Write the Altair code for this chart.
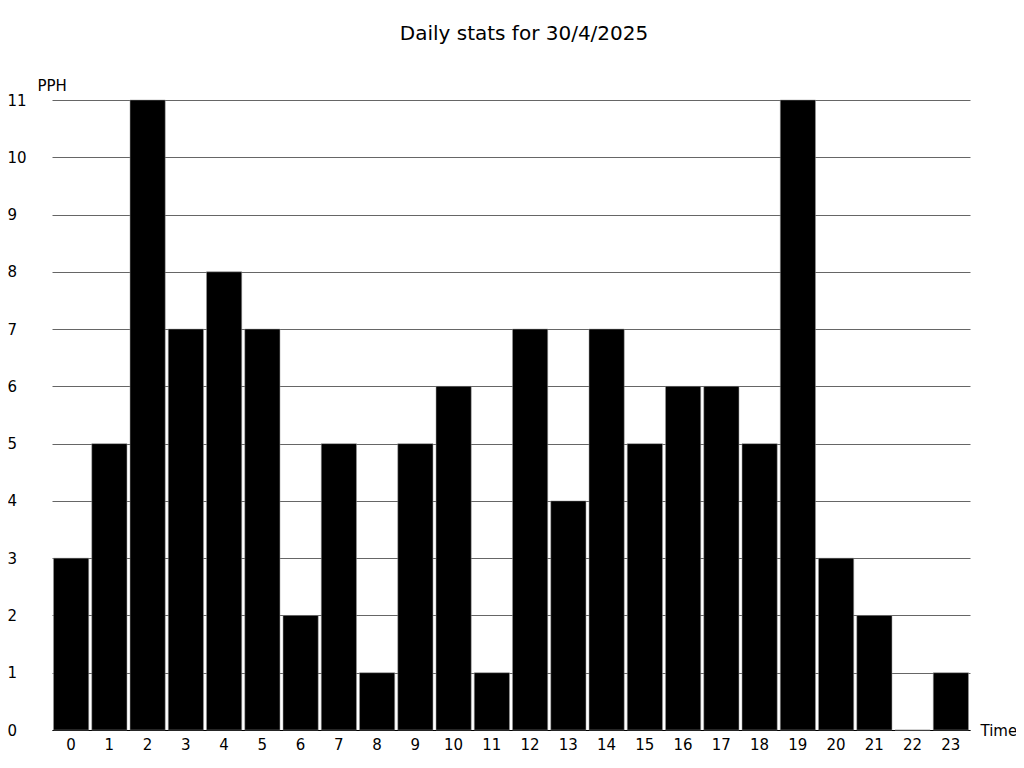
import altair as alt
import pandas as pd

hours = list(range(24))
pph = [3, 5, 11, 7, 8, 7, 2, 5, 1, 5, 6, 1, 7, 4, 7, 5, 6, 6, 5, 11, 3, 2, 0, 1]
y_ticks = list(range(12))

df = pd.DataFrame({"Time": hours, "PPH": pph})

chart = alt.Chart(df).mark_bar(color="black", stroke="#999999", strokeWidth=0.5).encode(
    x=alt.X("Time:O", scale=alt.Scale(paddingInner=0.08, paddingOuter=0.04),
            axis=alt.Axis(title="Time", labelAngle=0, ticks=False, domain=True,
                          domainColor="black", labelFontSize=15, labelColor="black",
                          labelFont="DejaVu Sans", labelPadding=7,
                          titleFont="DejaVu Sans", titleFontSize=15, titleFontWeight="normal",
                          titleColor="black", titleAlign="left", titleBaseline="middle",
                          titleX=928, titleY=0, titleAngle=0)),
    y=alt.Y("PPH:Q", scale=alt.Scale(domain=[0, 11], nice=False),
            axis=alt.Axis(title="PPH", values=y_ticks, ticks=False, domain=False,
                          grid=True, gridColor="#666666", gridWidth=1,
                          labelFontSize=15, labelColor="black", labelFont="DejaVu Sans",
                          labelAlign="left", labelPadding=45,
                          titleFont="DejaVu Sans", titleFontSize=15, titleFontWeight="normal",
                          titleColor="black", titleAngle=0, titleAlign="left",
                          titleBaseline="alphabetic", titleX=-15, titleY=-10)),
).properties(
    width=918, height=630,
    title=alt.TitleParams("Daily stats for 30/4/2025", font="DejaVu Sans", fontSize=20,
                          fontWeight="normal", color="black", anchor="middle", dx=13, offset=34),
    autosize=alt.AutoSizeParams(type="none"),
    padding={"left": 44, "top": 92, "right": 46, "bottom": 30},
).configure_view(stroke=None)

chart.save("out.html", embed_options={"renderer": "svg", "actions": False})
